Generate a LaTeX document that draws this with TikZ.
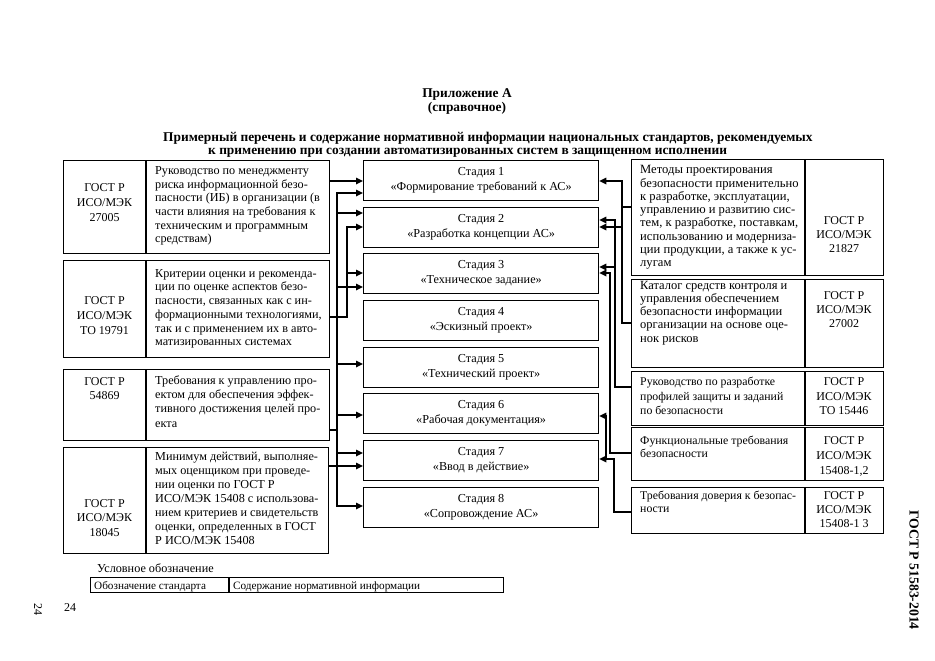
\documentclass[tikz,border=0pt]{standalone}
\usepackage{fontspec}
\setmainfont{Liberation Serif}
\usetikzlibrary{arrows.meta}
\newcommand\tph{\rule{0pt}{10pt}}
\tikzset{
 box/.style={draw, line width=1.3pt, anchor=north west, inner sep=0pt},
 div/.style={line width=1.3pt},
 txt/.style={align=left, inner sep=0pt, anchor=north west},
 lbl/.style={align=center, inner sep=0pt, anchor=north},
 stgbox/.style={draw, line width=1.3pt, anchor=north west, minimum width=235pt, minimum height=40pt, inner sep=0pt},
 stgt/.style={font=\fontsize{12.2}{15.5}\selectfont, align=center, inner sep=0pt, anchor=north},
 wire/.style={line width=1.6pt, line cap=rect},
 arr/.style={line width=1.6pt, line cap=rect, -{Triangle[length=7pt,width=6.5pt]}},
 ttl/.style={font=\bfseries\fontsize{13.4}{15}\selectfont, inner sep=0pt},
}
\begin{document}
\begin{tikzpicture}[x=1pt,y=-1pt]
\useasboundingbox (0,0) rectangle (935,661);

% titles
\node[ttl, anchor=base] (t1) at (467,98) {Приложение А};
\node[ttl, anchor=base] (t2) at (467,111) {(справочное)};
\node[ttl, anchor=base west] (t3) at (163,141) {Примерный перечень и содержание нормативной информации национальных стандартов, рекомендуемых};
\node[ttl, anchor=base west] (t4) at (208,154) {к применению при создании автоматизированных систем в защищенном исполнении};

% left boxes
\node[box, minimum width=266pt, minimum height=93pt] (L1) at (63,160) {};
\draw[div] ([xshift=83pt]L1.north west) -- ([xshift=83pt]L1.south west);
\node[lbl, font=\fontsize{12}{15}\selectfont] (L1s) at (104.5,181) {\tph ГОСТ Р\\ИСО/МЭК\\27005};
\node[txt, font=\fontsize{12.2}{13.6}\selectfont] (L1t) at (155,164.5) {\tph Руководство по менеджменту\\риска информационной безо-\\пасности (ИБ) в организации (в\\части влияния на требования к\\техническим и программным\\средствам)};

\node[box, minimum width=266pt, minimum height=97pt] (L2) at (63,260) {};
\draw[div] ([xshift=83pt]L2.north west) -- ([xshift=83pt]L2.south west);
\node[lbl, font=\fontsize{12}{15}\selectfont] (L2s) at (104.5,294.5) {\tph ГОСТ Р\\ИСО/МЭК\\ТО 19791};
\node[txt, font=\fontsize{12.2}{13.7}\selectfont] (L2t) at (155,267) {\tph Критерии оценки и рекоменда-\\ции по оценке аспектов безо-\\пасности, связанных как с ин-\\формационными технологиями,\\так и с применением их в авто-\\матизированных системах};

\node[box, minimum width=266pt, minimum height=71pt] (L3) at (63,369) {};
\draw[div] ([xshift=83pt]L3.north west) -- ([xshift=83pt]L3.south west);
\node[lbl, font=\fontsize{12}{14.3}\selectfont] (L3s) at (104.5,375) {\tph ГОСТ Р\\54869};
\node[txt, font=\fontsize{12.2}{14.1}\selectfont] (L3t) at (155,374.5) {\tph Требования к управлению про-\\ектом для обеспечения эффек-\\тивного достижения целей про-\\екта};

\node[box, minimum width=265pt, minimum height=106pt] (L4) at (63,447) {};
\draw[div] ([xshift=83pt]L4.north west) -- ([xshift=83pt]L4.south west);
\node[lbl, font=\fontsize{12}{14.5}\selectfont] (L4s) at (104.5,497) {\tph ГОСТ Р\\ИСО/МЭК\\18045};
\node[txt, font=\fontsize{12.2}{14}\selectfont] (L4t) at (155,450.5) {\tph Минимум действий, выполняе-\\мых оценщиком при проведе-\\нии оценки по ГОСТ Р\\ИСО/МЭК 15408 с использова-\\нием критериев и свидетельств\\оценки, определенных в ГОСТ\\Р ИСО/МЭК 15408};

% stages
\node[stgbox] (S1) at (363,160) {};
\node[stgt] (S1t) at ([yshift=-5pt]S1.north) {\tph Стадия 1\\«Формирование требований к АС»};
\node[stgbox] (S2) at (363,207) {};
\node[stgt] (S2t) at ([yshift=-5pt]S2.north) {\tph Стадия 2\\«Разработка концепции АС»};
\node[stgbox] (S3) at (363,253) {};
\node[stgt] (S3t) at ([yshift=-5pt]S3.north) {\tph Стадия 3\\«Техническое задание»};
\node[stgbox] (S4) at (363,300) {};
\node[stgt] (S4t) at ([yshift=-5pt]S4.north) {\tph Стадия 4\\«Эскизный проект»};
\node[stgbox] (S5) at (363,347) {};
\node[stgt] (S5t) at ([yshift=-5pt]S5.north) {\tph Стадия 5\\«Технический проект»};
\node[stgbox] (S6) at (363,393) {};
\node[stgt] (S6t) at ([yshift=-5pt]S6.north) {\tph Стадия 6\\«Рабочая документация»};
\node[stgbox] (S7) at (363,440) {};
\node[stgt] (S7t) at ([yshift=-5pt]S7.north) {\tph Стадия 7\\«Ввод в действие»};
\node[stgbox] (S8) at (363,487) {};
\node[stgt] (S8t) at ([yshift=-5pt]S8.north) {\tph Стадия 8\\«Сопровождение АС»};

% right boxes
\node[box, minimum width=252pt, minimum height=116pt] (R1) at (631,159) {};
\draw[div] ([xshift=174pt]R1.north west) -- ([xshift=174pt]R1.south west);
\node[txt, font=\fontsize{12.6}{13.3}\selectfont] (R1t) at (640,163.5) {\tph Методы проектирования\\безопасности применительно\\к разработке, эксплуатации,\\управлению и развитию сис-\\тем, к разработке, поставкам,\\использованию и модерниза-\\ции продукции, а также к ус-\\лугам};
\node[lbl, font=\fontsize{12}{14.2}\selectfont] (R1s) at (844,214) {\tph ГОСТ Р\\ИСО/МЭК\\21827};

\node[box, minimum width=252pt, minimum height=88pt] (R2) at (631,279) {};
\draw[div] ([xshift=174pt]R2.north west) -- ([xshift=174pt]R2.south west);
\node[txt, font=\fontsize{12.5}{13.2}\selectfont] (R2t) at (640,279) {\tph Каталог средств контроля и\\управления обеспечением\\безопасности информации\\организации на основе оце-\\нок рисков};
\node[lbl, font=\fontsize{12}{14}\selectfont] (R2s) at (844,289) {\tph ГОСТ Р\\ИСО/МЭК\\27002};

\node[box, minimum width=252pt, minimum height=54pt] (R3) at (631,371) {};
\draw[div] ([xshift=174pt]R3.north west) -- ([xshift=174pt]R3.south west);
\node[txt, font=\fontsize{11.8}{14.5}\selectfont] (R3t) at (640,375.5) {\tph Руководство по разработке\\профилей защиты и заданий\\по безопасности};
\node[lbl, font=\fontsize{12}{14.5}\selectfont] (R3s) at (844,375.5) {\tph ГОСТ Р\\ИСО/МЭК\\ТО 15446};

\node[box, minimum width=252pt, minimum height=53pt] (R4) at (631,427) {};
\draw[div] ([xshift=174pt]R4.north west) -- ([xshift=174pt]R4.south west);
\node[txt, font=\fontsize{11.8}{13.5}\selectfont] (R4t) at (640,434) {\tph Функциональные требования\\безопасности};
\node[lbl, font=\fontsize{12}{15}\selectfont] (R4s) at (844,434) {\tph ГОСТ Р\\ИСО/МЭК\\15408-1,2};

\node[box, minimum width=252pt, minimum height=46pt] (R5) at (631,487) {};
\draw[div] ([xshift=174pt]R5.north west) -- ([xshift=174pt]R5.south west);
\node[txt, font=\fontsize{11.8}{13.5}\selectfont] (R5t) at (640,489) {\tph Требования доверия к безопас-\\ности};
\node[lbl, font=\fontsize{12}{14.2}\selectfont] (R5s) at (844,489) {\tph ГОСТ Р\\ИСО/МЭК\\15408-1 3};

% left connectors
\draw[arr] (L1.east |- 0,181) -- (S1.west |- 0,181);
\draw[wire] (L2.east |- 0,317) -- (347,317) -- (347,227);
\draw[arr] (347,227) -- (S2.west |- 0,227);
\draw[arr] (347,273) -- (S3.west |- 0,273);
\draw[wire, line width=1.3pt] (L3.east |- 0,430) -- (337,430);
\draw[wire, line width=2.2pt] (337,193) -- (337,430);
\draw[wire, line width=1.3pt] (337,430) -- (337,506);
\foreach \y/\s in {193/S1,213/S2,287/S3,364/S5,415/S6,453/S7,506/S8}
  \draw[arr] (337,\y) -- (\s.west |- 0,\y);
\draw[arr] (L4.east |- 0,466) -- (S7.west |- 0,466);

% right connectors
\draw[wire] (R1.west |- 0,207) -- (622,207);
\draw[wire] (R2.west |- 0,323) -- (622,323);
\draw[wire] (622,181) -- (622,323);
\draw[arr] (622,181) -- (S1.east |- 0,181);
\draw[arr] (622,227) -- (S2.east |- 0,227);
\draw[wire] (R3.west |- 0,387) -- (615,387) -- (615,220);
\draw[arr] (615,220) -- (S2.east |- 0,220);
\draw[arr] (615,267) -- (S3.east |- 0,267);
\draw[wire] (R4.west |- 0,453) -- (610,453) -- (610,273);
\draw[arr] (610,273) -- (S3.east |- 0,273);
\draw[wire] (R5.west |- 0,512) -- (614,512) -- (614,459);
\draw[arr] (614,459) -- (S7.east |- 0,459);
\draw[wire] (606,459) -- (606,416);
\draw[arr] (606,416) -- (S6.east |- 0,416);

% legend
\node[anchor=base west, inner sep=0pt, font=\fontsize{12.2}{14}\selectfont] (lgT) at (97,572) {Условное обозначение};
\node[box, minimum width=413pt, minimum height=15pt] (lg) at (90,577) {};
\draw[div] ([xshift=139pt]lg.north west) -- ([xshift=139pt]lg.south west);
\node[anchor=base west, inner sep=0pt, font=\fontsize{11.2}{13}\selectfont] (lg1) at (94,589) {Обозначение стандарта};
\node[anchor=base west, inner sep=0pt, font=\fontsize{11.2}{13}\selectfont] (lg2) at (233,589) {Содержание нормативной информации};

% page marks
\node[font=\fontsize{12}{14}\selectfont] (pn1) at (70,608) {24};
\node[rotate=-90, font=\fontsize{12}{14}\selectfont] (pn2) at (38,609) {24};
\node[rotate=-90, font=\bfseries\fontsize{13.7}{15}\selectfont] (hdr) at (914,570) {ГОСТ Р 51583-2014};
\end{tikzpicture}
\end{document}
